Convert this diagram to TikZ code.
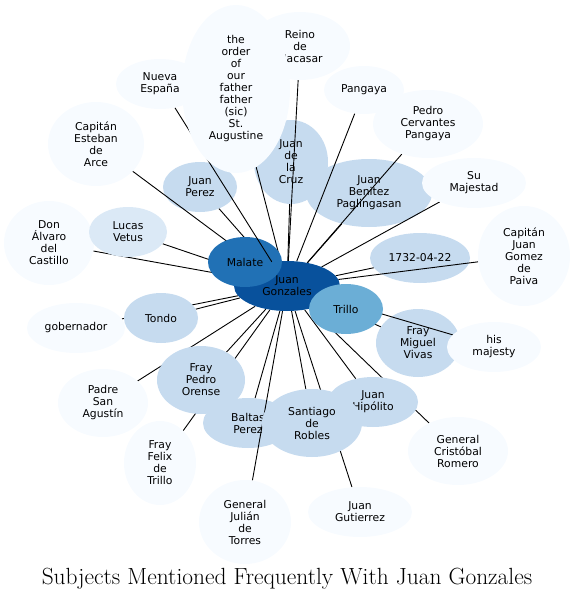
\documentclass[tikz,border=0pt]{standalone}
\usepackage{fontspec}
\usepackage{xcolor}
\usepackage{tikz}
\usetikzlibrary{shapes.geometric}
\newfontfamily\subjfont{DejaVu Sans}
\definecolor{gonblue}{HTML}{08519C}
\definecolor{malblue}{HTML}{2171B5}
\definecolor{trilblue}{HTML}{6BAED6}
\definecolor{midblue}{HTML}{C6DBEF}
\definecolor{lucblue}{HTML}{DBE9F6}
\definecolor{paleblue}{HTML}{F7FBFF}
\pgfdeclarelayer{bottom}
\pgfdeclarelayer{wires}
\pgfdeclarelayer{middle}
\pgfdeclarelayer{topwires}
\pgfsetlayers{bottom,wires,middle,topwires,main}

\begin{document}
\begin{tikzpicture}[x=1pt, y=-1pt,
    subj/.style={ellipse, inner sep=0pt, align=center, font=\subjfont\fontsize{10.8}{12}\selectfont},
    sz/.style 2 args={minimum width=#1pt, minimum height=#2pt},
    link/.style={draw=black, line width=0.9pt},
]
\useasboundingbox (0,0) rectangle (575,599);

% Nodes under the connectors
\begin{pgfonlayer}{bottom}
\node[subj, sz={74}{84}, fill=midblue] (cruz) at (291,162) {Juan\\de\\la\\Cruz};
\node[subj, sz={126}{68}, fill=midblue] (benitez) at (369,193) {Juan\\Benitez\\Paglingasan};
\node[subj, sz={74}{50}, fill=midblue] (perez) at (200,187) {Juan\\Perez};
\node[subj, sz={100}{50}, fill=midblue] (fecha) at (420,258) {1732-04-22};
\node[subj, sz={84}{68}, fill=midblue] (vivas) at (418,343) {Fray\\Miguel\\Vivas};
\node[subj, sz={90}{50}, fill=midblue] (baltas) at (248,423) {Baltas\\Perez};
\end{pgfonlayer}

% Hub and nodes over the connectors
\begin{pgfonlayer}{middle}
\node[subj, sz={106}{50}, fill=gonblue] (gon) at (287,286) {Juan\\Gonzales};
\node[subj, sz={74}{50}, fill=malblue] (malate) at (245,262) {Malate};
\node[subj, sz={74}{50}, fill=trilblue] (trillo) at (346,309) {Trillo};
\node[subj, sz={74}{50}, fill=midblue] (tondo) at (161,318) {Tondo};
\node[subj, sz={88}{68}, fill=midblue] (orense) at (201,380) {Fray\\Pedro\\Orense};
\node[subj, sz={90}{50}, fill=midblue] (hipolito) at (373,402) {Juan\\Hipólito};
\node[subj, sz={100}{68}, fill=midblue] (robles) at (312,423) {Santiago\\de\\Robles};
\end{pgfonlayer}

% Outer ring
\node[subj, sz={100}{68}, fill=paleblue] (reino) at (300,46) {Reino\\de\\Macasar};
\node[subj, sz={88}{50}, fill=paleblue] (nueva) at (160,84) {Nueva\\España};
\node[subj, sz={80}{48}, fill=paleblue] (pangaya) at (364,90) {Pangaya};
\node[subj, sz={110}{68}, fill=paleblue] (cervantes) at (428,124) {Pedro\\Cervantes\\Pangaya};
\node[subj, sz={104}{50}, fill=paleblue] (majestad) at (474,183) {Su\\Majestad};
\node[subj, sz={96}{84}, fill=paleblue] (arce) at (96,144) {Capitán\\Esteban\\de\\Arce};
\node[subj, sz={90}{84}, fill=paleblue] (alvaro) at (49,243) {Don\\Álvaro\\del\\Castillo};
\node[subj, sz={78}{50}, fill=lucblue] (lucas) at (128,232) {Lucas\\Vetus};
\node[subj, sz={92}{100}, fill=paleblue] (paiva) at (524,256) {Capitán\\Juan\\Gomez\\de\\Paiva};
\node[subj, sz={98}{50}, fill=paleblue] (gobernador) at (76,328) {gobernador};
\node[subj, sz={90}{68}, fill=paleblue] (padre) at (103,403) {Padre\\San\\Agustín};
\node[subj, sz={94}{50}, fill=paleblue] (hismaj) at (494,347) {his\\majesty};
\node[subj, sz={72}{84}, fill=paleblue] (felix) at (160,463) {Fray\\Felix\\de\\Trillo};
\node[subj, sz={92}{84}, fill=paleblue] (torres) at (245,522) {General\\Julián\\de\\Torres};
\node[subj, sz={104}{50}, fill=paleblue] (gutierrez) at (360,512) {Juan\\Gutierrez};
\node[subj, sz={100}{68}, fill=paleblue] (romero) at (458,451) {General\\Cristóbal\\Romero};
\node[subj, sz={108}{168}, fill=paleblue] (order) at (236,89) {the\\order\\of\\our\\father\\father\\(sic)\\St.\\Augustine};

% Connectors from the hub
\begin{pgfonlayer}{wires}
\foreach \t in {reino,order,cruz,pangaya,cervantes,benitez,majestad,fecha,paiva,
    vivas,hismaj,romero,hipolito,gutierrez,robles,torres,baltas,felix,orense,
    padre,gobernador,tondo,alvaro,lucas,arce,perez}
  \draw[link] (gon) -- (\t);
\end{pgfonlayer}
\begin{pgfonlayer}{topwires}
\draw[link] (gon) -- (nueva);
\end{pgfonlayer}

% Title
\node[anchor=base, font=\fontsize{23.4}{27}\selectfont] (title) at (287,584) {Subjects Mentioned Frequently With Juan Gonzales};
\end{tikzpicture}
\end{document}
